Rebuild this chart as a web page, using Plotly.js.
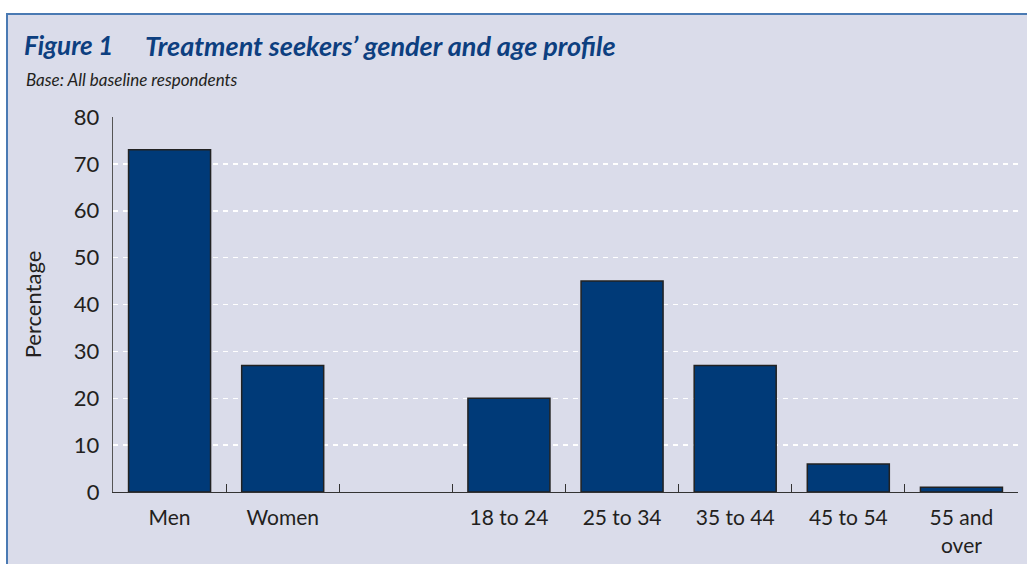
<!DOCTYPE html>
<html>
<head>
<meta charset="utf-8">
<script src="https://cdn.plot.ly/plotly-3.0.1.min.js"></script>
<style>
  html, body { margin: 0; padding: 0; background: #ffffff; width: 1027px; height: 564px; overflow: hidden; }
  #frame { position: absolute; left: 6px; top: 13px; width: 1021px; height: 551px;
           border-left: 2px solid #4a7ab3; border-top: 2px solid #4a7ab3; box-sizing: border-box; }
  #chart { position: absolute; left: 0; top: 0; width: 1019px; height: 549px; }
</style>
</head>
<body>
<div id="frame"><div id="chart"></div></div>
<script>
// Data
var categories = ["Men", "Women", " ", "18 to 24", "25 to 34", "35 to 44", "45 to 54", "55 and<br>over"];
var percentages = [73, 27, null, 20, 45, 27, 6, 1];
var yTickValues = [0, 10, 20, 30, 40, 50, 60, 70, 80];
var figureLabel = "Figure 1";
var titleText = "Treatment seekers\u2019 gender and age profile";
var baseText = "Base: All baseline respondents";
var yTitle = "Percentage";

var FONT = "Lato, 'Open Sans', sans-serif";
var BG = "#dadcea";
var NAVY = "#0d3f80";

// pixel helpers (plot area: x 105..1010 in chart div, y 102..477)
var L = 105, R = 9, T = 102, B = 72, W = 1019, H = 549;
var pw = W - L - R, ph = H - T - B;
function px(x) { return (x - L) / pw; }
function py(y) { return (H - B - y) / ph; }

var trace = {
  type: "bar",
  x: categories,
  y: percentages,
  width: 0.725,
  marker: { color: "#003a78", line: { color: "#222222", width: 1.5 } },
  hoverinfo: "x+y"
};

var layout = {
  width: W, height: H,
  margin: { l: L, r: R, t: T, b: B },
  paper_bgcolor: BG,
  plot_bgcolor: BG,
  showlegend: false,
  font: { family: FONT, color: "#231f20" },
  xaxis: {
    type: "category",
    tickson: "boundaries",
    ticks: "inside",
    ticklen: 8,
    tickwidth: 1,
    tickcolor: "#333333",
    showline: true,
    linecolor: "#333333",
    linewidth: 1.2,
    showgrid: false,
    ticklabelstandoff: 7,
    tickfont: { size: 21, family: FONT, color: "#231f20" },
    fixedrange: true
  },
  yaxis: {
    range: [0, 80],
    tickvals: yTickValues,
    ticktext: yTickValues.map(String),
    showline: true,
    linecolor: "#555555",
    linewidth: 1.2,
    ticks: "",
    ticklabelstandoff: 8,
    showgrid: true,
    gridcolor: "#ffffff",
    gridwidth: 1.5,
    griddash: "5px,5px",
    zeroline: false,
    tickfont: { size: 22, family: FONT, color: "#231f20" },
    title: { text: yTitle, font: { size: 22, family: FONT, color: "#231f20" }, standoff: 26 },
    fixedrange: true
  },
  annotations: [
    { text: "<b><i>" + figureLabel + "</i></b>", xref: "paper", yref: "paper",
      x: px(14), y: py(30), xanchor: "left", yanchor: "middle", showarrow: false,
      font: { size: 26, family: FONT, color: NAVY } },
    { text: "<b><i>" + titleText + "</i></b>", xref: "paper", yref: "paper",
      x: px(135), y: py(30), xanchor: "left", yanchor: "middle", showarrow: false,
      font: { size: 27, family: FONT, color: NAVY } },
    { text: "<i>" + baseText + "</i>", xref: "paper", yref: "paper",
      x: px(16), y: py(64), xanchor: "left", yanchor: "middle", showarrow: false,
      font: { size: 17, family: FONT, color: "#231f20" } }
  ]
};

Plotly.newPlot("chart", [trace], layout, { displayModeBar: false, staticPlot: true });
</script>
</body>
</html>
